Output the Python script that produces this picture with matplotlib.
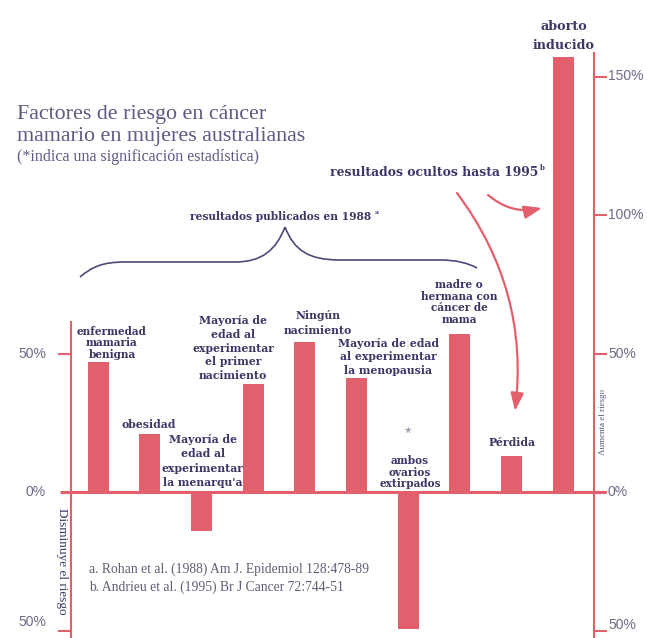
import matplotlib
matplotlib.use("Agg")
import matplotlib.pyplot as plt
from matplotlib.patches import FancyArrowPatch, PathPatch
from matplotlib.path import Path

# ---------------- data ----------------
categories = [
    "enfermedad\nmamaria\nbenigna",
    "obesidad",
    "Mayoría de\nedad al\nexperimentar\nla menarqu'a",
    "Mayoría de\nedad al\nexperimentar\nel primer\nnacimiento",
    "Ningún\nnacimiento",
    "Mayoría de edad\nal experimentar\nla menopausia",
    "ambos\novarios\nextirpados",
    "madre o\nhermana con\ncáncer de\nmama",
    "Pérdida",
    "aborto\ninducido",
]
values = [47, 21, -14, 39, 54, 41, -49.5, 57, 13, 157]
significant = [False, False, False, False, False, False, True, False, False, False]
left_ticks = [50, 0, -50]
right_ticks = [150, 100, 50, 0, -50]

title_lines = ["Factores de riesgo en cáncer", "mamario en mujeres australianas"]
subtitle = "(*indica una significación estadística)"
footnotes = ["a. Rohan et al. (1988) Am J. Epidemiol 128:478-89",
             "b. Andrieu et al. (1995) Br J Cancer 72:744-51"]

# ---------------- style ----------------
W, H = 647, 638
BAR = "#e2606d"
AXC = "#e35f6b"
NAVY = "#3b3868"
TITLE = "#5d5b84"
GREY = "#6b6a88"
SERIF = ["DejaVu Serif"]
TIMES = ["Liberation Serif", "DejaVu Serif"]
SANS = ["Liberation Sans", "DejaVu Sans"]

X0PX, PX_PER_BAR = 98, 51.67
Y0PX, PX_PER_PCT = 492, 2.77


def xd(px):
    return (px - X0PX) / PX_PER_BAR


def yd(py):
    return (Y0PX - py) / PX_PER_PCT


def F(px, py):
    return (px / W, 1 - py / H)


fig = plt.figure(figsize=(W / 100, H / 100), dpi=100)
fig.patch.set_facecolor("white")
ax = fig.add_axes([0, 0, 1, 1])
ax.set_xlim(xd(0), xd(W))
ax.set_ylim(yd(H), yd(0))
ax.axis("off")

# bars
ax.bar(range(len(values)), values, width=21 / PX_PER_BAR, color=BAR, zorder=3)

# axes lines
ax.plot([xd(60), xd(606)], [0, 0], color=AXC, lw=2.2, zorder=2, solid_capstyle="butt")
ax.plot([xd(71), xd(71)], [yd(322), yd(H)], color=AXC, lw=1.5, zorder=2)
ax.plot([xd(594), xd(594)], [yd(53), yd(H)], color=AXC, lw=1.5, zorder=2)
for t in left_ticks:
    if t != 0:
        ax.plot([xd(59), xd(71)], [t, t], color=AXC, lw=1.5, zorder=2)
    ax.text(xd(46), t + (3 if t < 0 else 0), f"{abs(t)}%", ha="right", va="center",
            fontsize=10, color=GREY, family=SANS)
for t in right_ticks:
    ax.plot([xd(594), xd(606)], [t, t], color=AXC, lw=1.5, zorder=2)
    ax.text(xd(608), t + (2 if t < 0 else 0), f"{abs(t)}%", ha="left", va="center",
            fontsize=10, color=GREY, family=SANS)

# axis side labels
fig.text(*F(62, 561), "Disminuye el riesgo", rotation=270, ha="center", va="center",
         fontsize=9.5, color=NAVY, family=TIMES)
fig.text(*F(603, 422), "Aumenta el riesgo", rotation=90, ha="center", va="center",
         fontsize=6.5, color="#55557a", family=TIMES)

# bar labels (center px, center py, line step px, font size)
label_pos = [
    (112, 343, 11, 7.6),
    (149, 424, 13, 7.8),
    (203, 461, 14.5, 7.8),
    (233, 348, 14, 7.8),
    (318, 323, 15, 7.8),
    (388, 357, 13.5, 7.8),
    (410, 472, 11.5, 7.6),
    (459, 302, 11, 7.6),
    (512, 442, 13, 7.8),
    (564, 36, 20, 9.2),
]
for cat, (cx, cy, step, fs) in zip(categories, label_pos):
    fig.text(*F(cx, cy), cat, ha="center", va="center", multialignment="center",
             fontsize=fs, fontweight="bold", color=NAVY, family=SERIF,
             linespacing=step / (fs * 100 / 72))
for i, s in enumerate(significant):
    if s:
        fig.text(*F(408, 434), "*", ha="center", va="center", fontsize=12,
                 color="#8a8aa0", family=SANS)

# title
fig.text(*F(17, 115), title_lines[0], ha="left", va="center", fontsize=15.8,
         color=TITLE, family=TIMES)
fig.text(*F(17, 137), title_lines[1], ha="left", va="center", fontsize=15.8,
         color=TITLE, family=TIMES)
fig.text(*F(17, 157), subtitle, ha="left", va="center", fontsize=11.5,
         color=TITLE, family=TIMES)

# footnotes
fig.text(*F(89, 569), footnotes[0], ha="left", va="center", fontsize=9.8,
         color="#5f5f78", family=TIMES)
fig.text(*F(89, 587), footnotes[1], ha="left", va="center", fontsize=9.8,
         color="#5f5f78", family=TIMES)

# annotations
fig.text(*F(281, 217), "resultados publicados en 1988", ha="center", va="center",
         fontsize=7.7, fontweight="bold", color=NAVY, family=SERIF)
fig.text(*F(377, 213), "a", ha="center", va="center", fontsize=4.5,
         fontweight="bold", color=NAVY, family=SERIF)
fig.text(*F(434, 173), "resultados ocultos hasta 1995", ha="center", va="center",
         fontsize=8.9, fontweight="bold", color=NAVY, family=SERIF)
fig.text(*F(542, 168), "b", ha="center", va="center", fontsize=5,
         fontweight="bold", color=NAVY, family=SERIF)

# brace
pts = [(80, 277), (92, 267), (102, 262), (125, 262), (235, 262),
       (262, 262), (276, 250), (285, 227),
       (285, 227), (294, 250), (308, 260), (340, 260), (440, 260),
       (456, 260), (468, 263), (477, 268)]
codes = [Path.MOVETO, Path.CURVE4, Path.CURVE4, Path.CURVE4, Path.LINETO,
         Path.CURVE4, Path.CURVE4, Path.CURVE4,
         Path.MOVETO, Path.CURVE4, Path.CURVE4, Path.CURVE4, Path.LINETO,
         Path.CURVE4, Path.CURVE4, Path.CURVE4]
brace = PathPatch(Path([F(*p) for p in pts], codes), fill=False, edgecolor="#4b4a7a",
                  lw=1.2, transform=fig.transFigure)
fig.add_artist(brace)

# arrows
a1 = FancyArrowPatch(F(457, 193), F(515, 411), transform=fig.transFigure,
                     connectionstyle="arc3,rad=-0.2", arrowstyle="-|>,head_length=6,head_width=2.2",
                     color=AXC, lw=1.6, mutation_scale=1.8, shrinkA=0, shrinkB=0)
fig.add_artist(a1)
a2 = FancyArrowPatch(F(488, 195), F(542, 208), transform=fig.transFigure,
                     connectionstyle="arc3,rad=0.25", arrowstyle="-|>,head_length=6,head_width=2.2",
                     color=AXC, lw=1.6, mutation_scale=1.8, shrinkA=0, shrinkB=0)
fig.add_artist(a2)

fig.savefig("out.png", dpi=100, facecolor="white")
